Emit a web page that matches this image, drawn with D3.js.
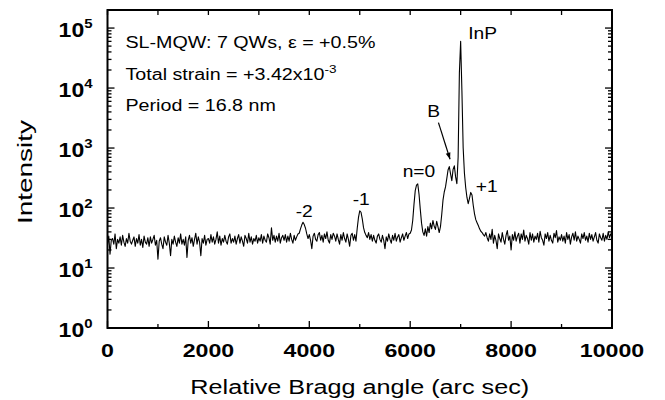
<!DOCTYPE html>
<html>
<head>
<meta charset="utf-8">
<script src="https://cdn.jsdelivr.net/npm/d3@7/dist/d3.min.js"></script>
<style>
  body { margin: 0; background: #fff; }
  text { font-family: "Liberation Sans", Arial, Helvetica, sans-serif; fill: #000; }
</style>
</head>
<body>
<div id="wrapper"></div>
<script>
// rocking curve, one reading every 25 arc sec from 0 to 10000
const angleStep = 25;
const intensity = [
  24,34,17,29,31,25,37,21,30,26,33,24,35,27,23,31,26,38,28,25,
  29,33,23,31,26,36,24,30,22,34,27,25,32,23,33,26,30,35,24,29,
  14,28,32,25,21,33,27,24,35,26,16,30,25,34,27,23,32,26,37,25,
  30,24,33,15,29,35,26,32,23,30,38,25,33,27,16,31,26,35,24,30,
  31,26,36,27,33,25,30,40,26,34,24,31,27,35,28,25,33,37,26,31,
  27,34,25,31,36,26,33,28,23,35,31,26,38,27,33,25,31,28,35,26,
  32,28,36,26,34,29,27,37,32,25,47,29,35,27,34,28,38,26,32,35,
  29,36,27,34,28,38,30,26,35,29,33,37,38,45,52,58,53,46,37,31,
  36,29,21,34,38,30,28,36,39,29,35,27,37,31,40,29,26,36,30,38,
  34,28,37,30,25,36,29,39,31,27,37,30,23,35,38,29,36,28,46,70,
  90,85,66,47,39,35,32,39,30,36,28,35,29,26,34,37,30,27,35,29,
  21,33,28,37,30,26,35,29,38,28,33,36,27,32,37,29,34,39,31,37,
  38,43,62,115,195,240,252,170,95,56,40,35,45,34,49,39,56,45,62,50,
  44,60,49,39,49,78,135,185,225,310,430,490,370,285,440,505,330,255,700,18000,
  60000,9000,1000,380,220,150,118,145,182,165,110,80,64,57,51,45,41,39,36,34,
  39,32,28,37,30,44,26,35,29,21,37,31,27,39,30,25,35,42,29,34,
  20,36,29,40,28,34,38,26,37,30,43,28,35,31,25,39,29,37,27,34,
  30,38,27,41,32,29,24,37,31,39,28,35,29,26,38,32,42,27,33,29,
  36,28,34,26,39,30,36,25,33,38,29,40,28,34,30,26,37,31,39,29,
  34,27,38,30,36,28,33,39,29,26,37,32,29,38,28,35,30,40,32,37,
  33
];

const xMajorTicks = [0, 2000, 4000, 6000, 8000, 10000];
const xMinorTicks = [1000, 3000, 5000, 7000, 9000];
const yDecades = [0, 1, 2, 3, 4, 5];

const infoLines = [
  { main: "SL-MQW: 7 QWs, \u03b5 = +0.5%", sup: "" },
  { main: "Total strain = +3.42x10", sup: "-3" },
  { main: "Period = 16.8 nm", sup: "" }
];

// peak labels, placed in data units (angle, intensity)
const peakLabels = [
  { text: "-2",  angle: 3730, value: 72 },
  { text: "-1",  angle: 4860, value: 112 },
  { text: "n=0", angle: 5850, value: 330 },
  { text: "B",   angle: 6340, value: 3300 },
  { text: "InP", angle: 7150, value: 65000 },
  { text: "+1",  angle: 7300, value: 185 }
];
const arrowB = { from: [6560, 2650], to: [6790, 650] };

const dimensions = {
  width: 665,
  height: 400,
  margin: { top: 10, right: 53, bottom: 72, left: 107.5 }
};
dimensions.boundedWidth = dimensions.width - dimensions.margin.left - dimensions.margin.right;
dimensions.boundedHeight = dimensions.height - dimensions.margin.top - dimensions.margin.bottom;

const svg = d3.select("#wrapper")
  .append("svg")
  .attr("width", dimensions.width)
  .attr("height", dimensions.height);

const bounds = svg.append("g")
  .attr("transform", `translate(${dimensions.margin.left},${dimensions.margin.top})`);

const xScale = d3.scaleLinear()
  .domain([0, 10000])
  .range([0, dimensions.boundedWidth]);

const yScale = d3.scaleLog()
  .domain([1, 2e5])
  .range([dimensions.boundedHeight, 0]);

const data = intensity.map((v, i) => ({ angle: i * angleStep, value: v }));

// text is drawn wide in the original figure, so stretch it horizontally
function wideText(parent, x, y, k, anchor, size, weight) {
  const g = parent.append("g").attr("transform", `translate(${x},${y}) scale(${k},1)`);
  return g.append("text")
    .attr("text-anchor", anchor)
    .style("font-size", size + "px")
    .style("font-weight", weight || "normal");
}

// trace
bounds.append("path")
  .datum(data)
  .attr("fill", "none")
  .attr("stroke", "#000")
  .attr("stroke-width", 1.1)
  .attr("stroke-linejoin", "round")
  .attr("d", d3.line().x(d => xScale(d.angle)).y(d => yScale(d.value)));

// ticks, all pointing inward
const tickG = bounds.append("g").attr("stroke", "#000").attr("stroke-width", 1.3);
const H = dimensions.boundedHeight, W = dimensions.boundedWidth;
xMajorTicks.concat(xMinorTicks).forEach(v => {
  const len = xMajorTicks.includes(v) ? 7 : 4;
  tickG.append("line").attr("x1", xScale(v)).attr("x2", xScale(v)).attr("y1", H).attr("y2", H - len);
  tickG.append("line").attr("x1", xScale(v)).attr("x2", xScale(v)).attr("y1", 0).attr("y2", 5);
});
const yTicks = [];
yDecades.forEach(d => {
  for (let m = 1; m <= 9; m++) {
    const v = m * Math.pow(10, d);
    if (v <= 2e5) yTicks.push({ v, major: m === 1 });
  }
});
yTicks.forEach(t => {
  const y = yScale(t.v);
  const len = t.major ? 7 : 4;
  tickG.append("line").attr("x1", 0).attr("x2", len).attr("y1", y).attr("y2", y);
  tickG.append("line").attr("x1", W).attr("x2", W - len).attr("y1", y).attr("y2", y);
});

// frame
bounds.append("rect")
  .attr("width", W).attr("height", H)
  .attr("fill", "none").attr("stroke", "#000").attr("stroke-width", 2);

// x tick labels
xMajorTicks.forEach(v => {
  wideText(bounds, xScale(v), H + 29, 1.22, "middle", 19, "bold").text(v);
});

// y tick labels 10^n
yDecades.forEach(d => {
  const t = wideText(bounds, -15, yScale(Math.pow(10, d)) + 9, 1.15, "end", 20, "bold");
  t.append("tspan").text("10");
  t.append("tspan").attr("dy", -9).style("font-size", "13px").text(d);
});

// axis titles
wideText(svg, dimensions.margin.left + W / 2, 394, 1.2, "middle", 21).text("Relative Bragg angle (arc sec)");
svg.append("g").attr("transform", "translate(32,172) rotate(-90) scale(1.33,1)")
  .append("text").attr("text-anchor", "middle").style("font-size", "21px").text("Intensity");

// info block
infoLines.forEach((line, i) => {
  const t = wideText(bounds, 18, 38 + i * 31.5, 1.23, "start", 16);
  t.append("tspan").text(line.main);
  if (line.sup) t.append("tspan").attr("dy", -7).style("font-size", "11px").text(line.sup);
});

// peak labels
peakLabels.forEach(p => {
  wideText(bounds, xScale(p.angle), yScale(p.value), 1.2, "start", 16).text(p.text);
});

// arrow to B
const ax1 = xScale(arrowB.from[0]), ay1 = yScale(arrowB.from[1]);
const ax2 = xScale(arrowB.to[0]), ay2 = yScale(arrowB.to[1]);
bounds.append("line")
  .attr("x1", ax1).attr("y1", ay1).attr("x2", ax2).attr("y2", ay2)
  .attr("stroke", "#000").attr("stroke-width", 1.2);
const ang = Math.atan2(ay2 - ay1, ax2 - ax1);
const head = 7, spread = 0.35;
bounds.append("path")
  .attr("d", `M${ax2},${ay2}L${ax2 - head * Math.cos(ang - spread)},${ay2 - head * Math.sin(ang - spread)}L${ax2 - head * Math.cos(ang + spread)},${ay2 - head * Math.sin(ang + spread)}Z`)
  .attr("fill", "#000");
</script>
</body>
</html>
